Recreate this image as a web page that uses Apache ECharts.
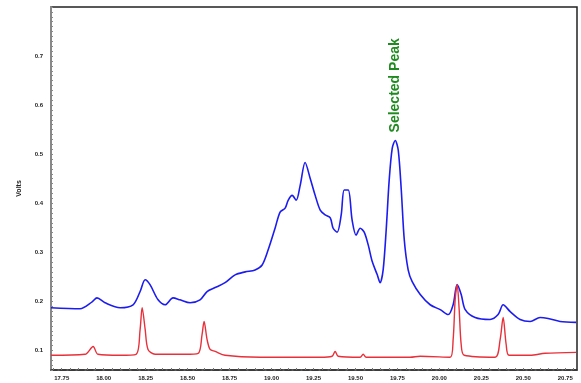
<!DOCTYPE html>
<html>
<head>
<meta charset="utf-8">
<script src="https://cdn.jsdelivr.net/npm/echarts@6/dist/echarts.min.js"></script>
<style>
  html, body { margin: 0; padding: 0; background: #fff; }
  #chart { width: 581px; height: 383px; }
</style>
</head>
<body>
<div id="chart"></div>
<script>
// 数据
const blueTime = [17.686, 17.859, 17.931, 17.960, 18.008, 18.098, 18.175, 18.217, 18.247, 18.276,
    18.324, 18.366, 18.413, 18.455, 18.515, 18.574, 18.616, 18.664, 18.723, 18.783,
    18.843, 18.902, 18.944, 18.980, 19.021, 19.051, 19.081, 19.099, 19.123, 19.147,
    19.171, 19.200, 19.230, 19.260, 19.290, 19.320, 19.350, 19.367, 19.391, 19.415,
    19.433, 19.457, 19.480, 19.504, 19.528, 19.552, 19.576, 19.600, 19.630, 19.647,
    19.665, 19.683, 19.701, 19.719, 19.737, 19.755, 19.773, 19.791, 19.814, 19.838,
    19.886, 19.945, 20.005, 20.053, 20.082, 20.106, 20.130, 20.154, 20.213, 20.302,
    20.350, 20.380, 20.422, 20.481, 20.541, 20.600, 20.648, 20.719, 20.815];
const blueVolts = [0.187, 0.185, 0.199, 0.207, 0.197, 0.187, 0.193, 0.220, 0.244, 0.234,
    0.203, 0.193, 0.207, 0.203, 0.197, 0.203, 0.220, 0.228, 0.238, 0.254,
    0.260, 0.264, 0.274, 0.305, 0.349, 0.382, 0.390, 0.406, 0.416, 0.406,
    0.437, 0.483, 0.451, 0.416, 0.386, 0.376, 0.370, 0.349, 0.341, 0.376,
    0.427, 0.427, 0.366, 0.335, 0.349, 0.341, 0.315, 0.281, 0.254, 0.238,
    0.264, 0.345, 0.447, 0.512, 0.528, 0.508, 0.427, 0.325, 0.264, 0.240,
    0.214, 0.193, 0.183, 0.173, 0.193, 0.234, 0.214, 0.183, 0.167, 0.163,
    0.173, 0.193, 0.179, 0.163, 0.159, 0.167, 0.165, 0.159, 0.157];

const redTime = [17.686, 17.889, 17.937, 17.966, 18.098, 18.193, 18.217, 18.229, 18.247, 18.264,
    18.306, 18.485, 18.563, 18.586, 18.598, 18.616, 18.634, 18.664, 18.723, 18.932,
    19.290, 19.361, 19.379, 19.397, 19.528, 19.546, 19.564, 19.826, 19.886, 20.064,
    20.082, 20.094, 20.106, 20.118, 20.130, 20.148, 20.332, 20.362, 20.380, 20.398,
    20.415, 20.541, 20.630, 20.815];
const redVolts = [0.090, 0.092, 0.108, 0.092, 0.090, 0.092, 0.143, 0.187, 0.143, 0.102,
    0.092, 0.092, 0.094, 0.132, 0.159, 0.122, 0.102, 0.098, 0.090, 0.086,
    0.086, 0.088, 0.098, 0.088, 0.086, 0.092, 0.086, 0.086, 0.088, 0.086,
    0.122, 0.203, 0.234, 0.183, 0.112, 0.090, 0.086, 0.122, 0.167, 0.112,
    0.090, 0.090, 0.094, 0.096];

const xTicks = [17.75, 18.00, 18.25, 18.50, 18.75, 19.00, 19.25, 19.50, 19.75, 20.00, 20.25, 20.50, 20.75];
const yTicks = [0.1, 0.2, 0.3, 0.4, 0.5, 0.6, 0.7];
const peakLabel = 'Selected Peak';
const peakPoint = [19.737, 0.528];

const zip = (a, b) => a.map((v, i) => [v, b[i]]);

// 小刻度
const yMinor = [];
for (let i = 6; i <= 80; i++) yMinor.push(+(i / 100).toFixed(2));
const xMinor = [];
for (let i = 0; i <= 64; i++) xMinor.push(+(17.70 + i * 0.05).toFixed(2));

const chart = echarts.init(document.getElementById('chart'));
const option = {
    animation: false,
    backgroundColor: '#fff',
    grid: {
        left: 51, right: 4, top: 7, bottom: 13,
        show: true, borderColor: '#222', borderWidth: 1.5
    },
    xAxis: {
        type: 'value',
        min: 17.686,
        max: 20.82,
        axisLine: { show: true, onZero: false, lineStyle: { color: '#333', width: 1.5, type: [6, 3] } },
        axisTick: { show: true, inside: true, length: 2, customValues: xMinor, lineStyle: { color: '#777' } },
        splitLine: { show: false },
        axisLabel: {
            customValues: xTicks,
            formatter: v => v.toFixed(2),
            fontSize: 6, fontWeight: 'bold', color: '#222', margin: 5,
            fontFamily: 'Liberation Sans'
        }
    },
    yAxis: {
        type: 'value',
        min: 0.06,
        max: 0.8,
        name: 'Volts',
        nameLocation: 'middle',
        nameGap: 28,
        nameTextStyle: { fontSize: 7, fontWeight: 'bold', color: '#222', fontFamily: 'Liberation Sans' },
        axisLine: { show: true, onZero: false, lineStyle: { color: '#888', width: 2 } },
        axisTick: { show: true, inside: true, length: 2, customValues: yMinor, lineStyle: { color: '#888' } },
        splitLine: { show: false },
        axisLabel: {
            customValues: yTicks,
            formatter: v => v.toFixed(1),
            fontSize: 6, fontWeight: 'bold', color: '#222', margin: 8,
            fontFamily: 'Liberation Sans'
        }
    },
    series: [
        {
            name: 'blue',
            type: 'line',
            data: zip(blueTime, blueVolts),
            symbol: 'none',
            smooth: 0.3,
            lineStyle: { color: '#1c1cf0', width: 1.6 }
        },
        {
            name: 'red',
            type: 'line',
            data: zip(redTime, redVolts),
            symbol: 'none',
            smooth: 0.3,
            lineStyle: { color: '#e8303a', width: 1.4 }
        }
    ]
};
chart.setOption(option);

// 峰值标注
const p = chart.convertToPixel({ gridIndex: 0 }, peakPoint);
chart.setOption({
    graphic: [{
        type: 'text',
        x: p[0],
        y: p[1] - 8,
        rotation: Math.PI / 2,
        style: {
            text: peakLabel,
            fill: '#1f8a1f',
            font: 'bold 14px "Liberation Sans", Arial, sans-serif',
            align: 'left',
            verticalAlign: 'middle'
        }
    }]
});
</script>
</body>
</html>
